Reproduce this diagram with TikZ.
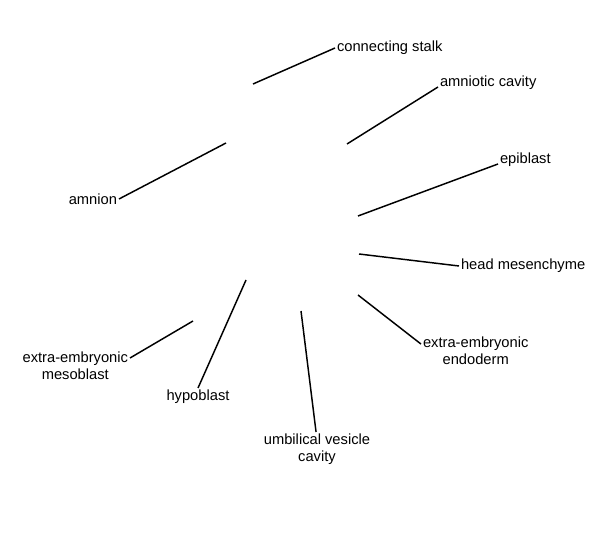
\documentclass[tikz,border=0pt]{standalone}
\usepackage{fontspec}
\setmainfont{Liberation Sans}

\begin{document}
\begin{tikzpicture}[x=0.85pt, y=-0.85pt,
		lbl/.style={inner sep=1.5pt, align=center, font=\fontsize{12.5}{14.5}\selectfont},
		lead/.style={line width=1.25pt}]
			\useasboundingbox (0, 0) rectangle (600, 554);

			\draw (335, 48) 	node[lbl, anchor=west] 		(stalk) 	{connecting stalk};
			\draw (438, 87) 	node[lbl, anchor=base west] 	(cavity) 	{amniotic cavity};
			\draw (498, 164) 	node[lbl, anchor=base west] 	(epi) 		{epiblast};
			\draw (459, 266) 	node[lbl, anchor=west] 		(head) 		{head mesenchyme};
			\draw (421, 365) 	node[lbl, anchor=base west] 	(endo) 		{extra-embryonic\\endoderm};
			\draw (317, 432) 	node[lbl, anchor=north] 	(vesicle) 	{umbilical vesicle\\cavity};
			\draw (198, 388) 	node[lbl, anchor=north] 	(hypo) 		{hypoblast};
			\draw (130, 380) 	node[lbl, anchor=base east] 	(meso) 		{extra-embryonic\\mesoblast};
			\draw (119, 199) 	node[lbl, anchor=east] 		(amnion) 	{amnion};

			\coordinate (stalk_a) 	at (253, 84);
			\coordinate (cavity_a) 	at (347, 144);
			\coordinate (epi_a) 	at (358, 216);
			\coordinate (head_a) 	at (359, 254);
			\coordinate (endo_a) 	at (358, 295);
			\coordinate (vesicle_a) at (301, 311);
			\coordinate (hypo_a) 	at (246, 280);
			\coordinate (meso_a) 	at (193, 321);
			\coordinate (amnion_a) 	at (226, 143);

			\draw[lead] (stalk_a) -- (stalk.west);
			\draw[lead] (cavity_a) -- (cavity.base west);
			\draw[lead] (epi_a) -- (epi.base west);
			\draw[lead] (head_a) -- (head.west);
			\draw[lead] (endo_a) -- ([yshift=17.8pt]endo.base west);
			\draw[lead] (vesicle_a) -- ([xshift=-0.8pt]vesicle.north);
			\draw[lead] (hypo_a) -- (hypo.north);
			\draw[lead] (meso_a) -- ([yshift=18.7pt]meso.base east);
			\draw[lead] (amnion_a) -- (amnion.east);
		\end{tikzpicture}
\end{document}
